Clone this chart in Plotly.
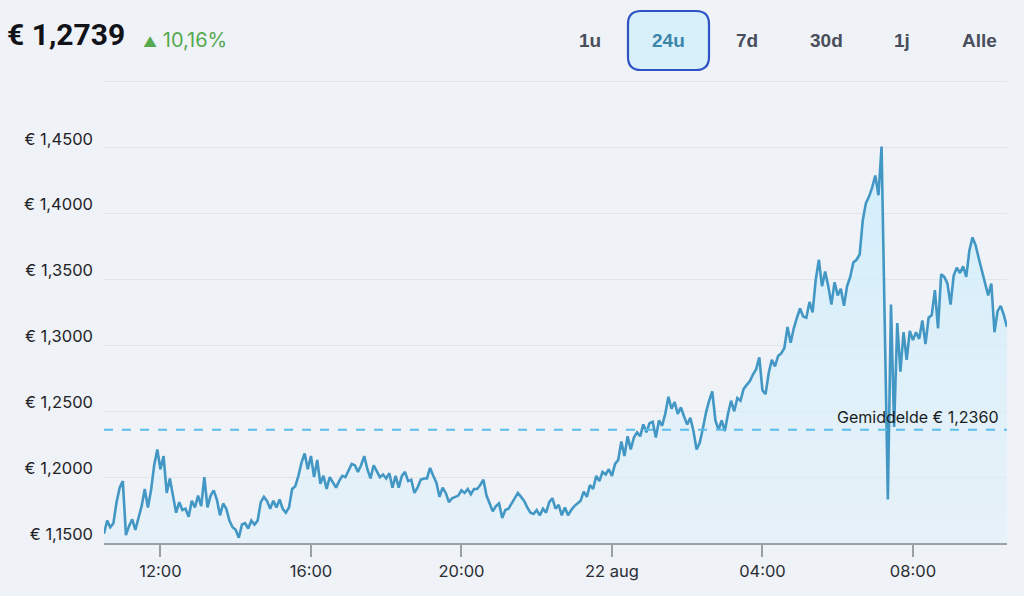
import pandas as pd
import plotly.graph_objects as go

# ---- data ----
seg1 = [1.157,1.167,1.162,1.165,1.181,1.192,1.197,1.156,1.163,1.168,
        1.160,1.170,1.178,1.191,1.177,1.190,1.209,1.221,1.206,1.216,
        1.188,1.199,1.185,1.173,1.181,1.175,1.176,1.170,1.182,1.177,
        1.186,1.178,1.200,1.177,1.186,1.190,1.183,1.171,1.180,1.176,
        1.167,1.162,1.160,1.154,1.164,1.165,1.161,1.167,1.164,1.167,
        1.181,1.185,1.182,1.176,1.182,1.177,1.183,1.176,1.173,1.177,
        1.191,1.193,1.201,1.211,1.218,1.206,1.216,1.200,1.213,1.195,
        1.201,1.191,1.200,1.196,1.192,1.197,1.201,1.200,1.205,1.210,
        1.209,1.204]
seg2 = [1.209,1.216,1.206,1.199,1.209,1.205,1.200,1.202,1.199,1.203,
        1.192,1.201,1.192,1.201,1.204,1.197,1.198,1.188,1.192,1.198,
        1.199,1.199,1.207,1.201,1.196,1.185,1.192,1.188,1.181,1.184,
        1.185,1.186,1.190,1.188,1.191,1.187,1.191,1.191,1.194,1.198,
        1.186,1.180,1.174,1.178,1.180,1.169,1.175,1.176,1.180,1.185,
        1.188,1.185,1.182,1.177,1.173,1.172,1.175,1.171,1.176,1.173,
        1.181,1.184,1.176,1.179,1.171,1.177,1.171,1.175,1.178,1.180,
        1.182,1.189,1.185,1.194,1.191,1.201,1.197,1.204,1.202,1.206,
        1.201,1.210]
seg3 = [1.213,1.227,1.216,1.231,1.221,1.230,1.234,1.231,1.240,1.234,
        1.241,1.242,1.230,1.243,1.239,1.248,1.261,1.252,1.257,1.248,
        1.253,1.246,1.240,1.245,1.235,1.221,1.226,1.237,1.249,1.258,
        1.265,1.243,1.236,1.243,1.235,1.248,1.258,1.250,1.260,1.258,
        1.267,1.270,1.273,1.278,1.282,1.291,1.266,1.263,1.279,1.289,
        1.284,1.292,1.294,1.298,1.314,1.302,1.313,1.321,1.328,1.322,
        1.321,1.333]
seg4 = [1.325,1.350,1.365,1.345,1.356,1.345,1.331,1.348,1.338,1.343,
        1.330,1.345,1.352,1.363,1.365,1.369,1.395,1.408,1.413,1.420,
        1.429,1.414,1.451,1.317,1.183,1.331,1.238,1.317,1.280,1.310,
        1.289,1.311,1.304,1.310,1.305,1.319,1.301,1.321,1.323,1.342,
        1.313,1.354,1.352,1.347,1.331,1.353,1.359,1.355,1.360,1.352,
        1.372,1.382,1.376,1.366,1.356,1.347,1.338,1.347,1.310,1.326,
        1.330,1.323,1.314]
prices = seg1 + seg2 + seg3 + seg4
times = pd.date_range("2024-08-21 10:30", periods=len(prices), freq="5min")

average = 1.236
y_ticks = [1.15, 1.20, 1.25, 1.30, 1.35, 1.40, 1.45, 1.50]
y_ticktext = ["€ 1,1500", "€ 1,2000", "€ 1,2500", "€ 1,3000", "€ 1,3500", "€ 1,4000", "€ 1,4500", ""]
x_ticks = pd.to_datetime(["2024-08-21 12:00", "2024-08-21 16:00", "2024-08-21 20:00",
                          "2024-08-22 00:00", "2024-08-22 04:00", "2024-08-22 08:00"])
x_ticktext = ["12:00", "16:00", "20:00", "22 aug", "04:00", "08:00"]
price_text = "€ 1,2739"
change_pct = "10,16%"
buttons = ["1u", "24u", "7d", "30d", "1j", "Alle"]
selected = "24u"

# ---- layout geometry (pixels) ----
W, H = 1024, 596
ML, MR, MT, MB = 104, 17, 78, 53
PW, PH = W - ML - MR, H - MT - MB

def px(xp):
    return (xp - ML) / PW

def py(yp):
    return (H - MB - yp) / PH

BG = "#eff2f7"

fig = go.Figure()
fig.add_trace(go.Scatter(
    x=times, y=prices, mode="lines",
    line=dict(color="#4397c4", width=2.6),
    fill="tozeroy",
    fillgradient=dict(type="vertical", start=1.15, stop=1.46,
                      colorscale=[[0, "rgba(222,240,250,0.5)"], [1, "rgba(205,238,252,0.9)"]]),
    hoverinfo="skip", showlegend=False,
))

shapes = [dict(type="line", xref="paper", x0=0, x1=1, yref="y", y0=average, y1=average,
               line=dict(color="#5bbde9", width=2, dash="dash"), layer="above")]

# rounded selection box
bx0, bx1, by0, by1, r = 628, 709, 11, 70, 13
rx, ry = r / PW, r / PH
X0, X1, Y0, Y1 = px(bx0), px(bx1), py(by1), py(by0)
path = (f"M {X0+rx},{Y0} L {X1-rx},{Y0} Q {X1},{Y0} {X1},{Y0+ry} "
        f"L {X1},{Y1-ry} Q {X1},{Y1} {X1-rx},{Y1} L {X0+rx},{Y1} "
        f"Q {X0},{Y1} {X0},{Y1-ry} L {X0},{Y0+ry} Q {X0},{Y0} {X0+rx},{Y0} Z")
shapes.append(dict(type="path", xref="paper", yref="paper", path=path,
                   fillcolor="#d8f0fa", line=dict(color="#2f52c4", width=2.2), layer="above"))

annotations = [
    dict(text="Gemiddelde € 1,2360", xref="paper", yref="y", x=px(1001), y=average,
         xanchor="right", yanchor="bottom", yshift=1, showarrow=False,
         font=dict(family="Inter", size=16, color="#1a1d22")),
    dict(text=f"<b>{price_text}</b>", xref="paper", yref="paper", x=px(5), y=py(35),
         xanchor="left", yanchor="middle", showarrow=False,
         font=dict(family="Roboto", size=30, color="#111318")),
    dict(text=f"<span style='font-size:14px'>▲</span> {change_pct}", xref="paper", yref="paper",
         x=px(141), y=py(40), xanchor="left", yanchor="middle", showarrow=False,
         font=dict(family="Inter", size=20, color="#56a94f")),
]
btn_centers = [590, 668, 747, 826, 902, 979]
for lab, cx in zip(buttons, btn_centers):
    annotations.append(dict(
        text=f"<b>{lab}</b>", xref="paper", yref="paper", x=px(cx), y=py(41),
        xanchor="center", yanchor="middle", showarrow=False,
        font=dict(family="Liberation Sans", size=19,
                  color="#3d86aa" if lab == selected else "#4a4e5a")))

fig.update_layout(
    width=W, height=H,
    margin=dict(l=ML, r=MR, t=MT, b=MB),
    paper_bgcolor=BG, plot_bgcolor=BG,
    shapes=shapes, annotations=annotations,
    xaxis=dict(range=[times[0], times[-1]], tickvals=x_ticks, ticktext=x_ticktext,
               showgrid=False, zeroline=False, showline=True, linecolor="#9aa0a8", linewidth=1.5,
               ticks="outside", ticklen=12, tickwidth=1.5, tickcolor="#9aa0a8",
               tickfont=dict(family="Inter", size=16.5, color="#2a2e35")),
    yaxis=dict(range=[1.15, 1.503], tickvals=y_ticks, ticktext=y_ticktext,
               showgrid=True, gridcolor="#e1e4ea", gridwidth=1, zeroline=False, showline=False,
               ticks="", ticklabelstandoff=10, ticklabelshift=-9,
               tickfont=dict(family="Inter", size=16.5, color="#1f2328")),
)

fig.write_html("out.html", config={"displayModeBar": False},
               post_script="document.body.style.margin='0';document.body.style.background='#eff2f7';")
